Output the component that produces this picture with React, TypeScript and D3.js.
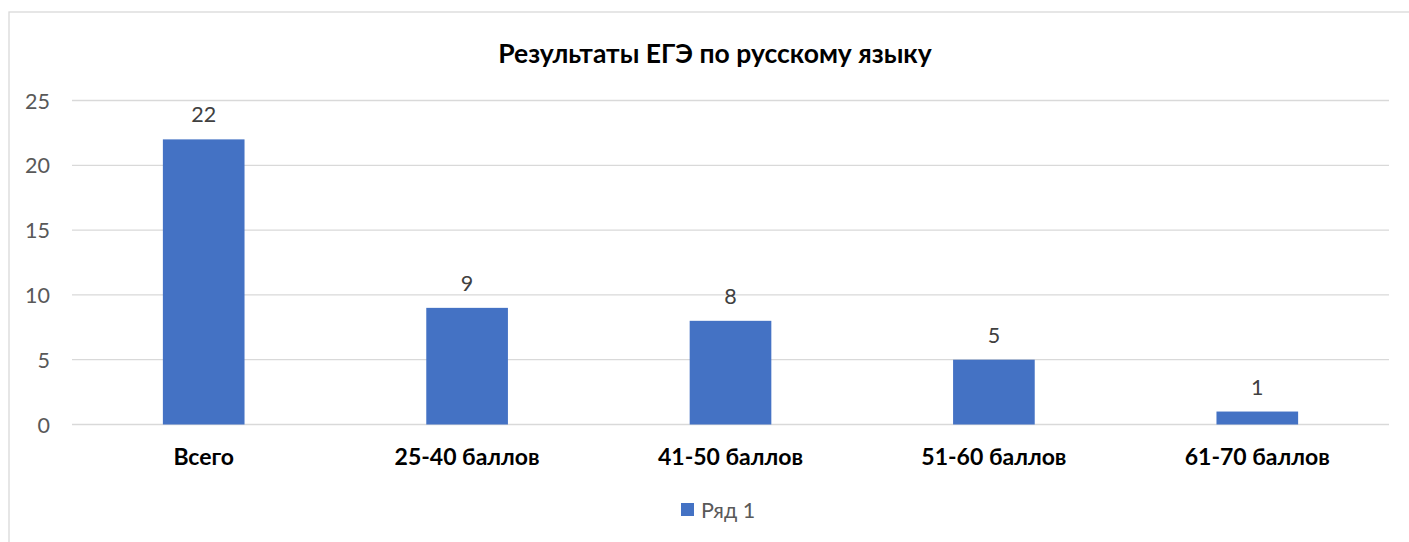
import React from "react";
import * as d3 from "d3";

const categories = ["Всего", "25-40 баллов", "41-50 баллов", "51-60 баллов", "61-70 баллов"];
const values = [22, 9, 8, 5, 1];
const yTicks = [0, 5, 10, 15, 20, 25];
const seriesName = "Ряд 1";
const title = "Результаты ЕГЭ по русскому языку";

const W = 1409;
const H = 542;
const FONT = "Lato, 'Open Sans', sans-serif";

export default function App() {
  const x = d3.scaleBand<string>().domain(categories).range([72, 1389]).paddingInner(0.69).paddingOuter(0.345);
  const y = d3.scaleLinear().domain([0, 25]).range([424.5, 100.5]);
  return (
    <svg width={W} height={H} style={{ position: "absolute", left: 0, top: 0 }}>
      <rect x={0} y={0} width={W} height={H} fill="#fff" />
      <rect x={9} y={12} width={W + 20} height={H + 20} fill="#fff" stroke="#D9D9D9" strokeWidth={1.3} />
      <text x={715} y={53} textAnchor="middle" dominantBaseline="central" fontFamily={FONT} fontWeight="bold" fontSize={26.5} fill="#000">{title}</text>
      {yTicks.map((t) => (
        <g key={t}>
          <line x1={72} x2={1389} y1={y(t)} y2={y(t)} stroke="#D9D9D9" strokeWidth={1.3} />
          <text x={50} y={y(t)} textAnchor="end" dominantBaseline="central" fontFamily={FONT} fontSize={21.5} fill="#595959">{t}</text>
        </g>
      ))}
      {categories.map((c, i) => (
        <g key={c}>
          <rect x={x(c)} y={y(values[i])} width={x.bandwidth()} height={y(0) - y(values[i])} fill="#4472C4" />
          <text x={(x(c) as number) + x.bandwidth() / 2} y={y(values[i]) - 25} textAnchor="middle" dominantBaseline="central" fontFamily={FONT} fontSize={21.5} fill="#404040">{values[i]}</text>
          <text x={(x(c) as number) + x.bandwidth() / 2} y={456} textAnchor="middle" dominantBaseline="central" fontFamily={FONT} fontWeight="bold" fontSize={23} fill="#000">{c}</text>
        </g>
      ))}
      <rect x={681} y={503} width={13} height={13} fill="#4472C4" />
      <text x={701} y={510} dominantBaseline="central" fontFamily={FONT} fontSize={21.5} fill="#595959">{seriesName}</text>
    </svg>
  );
}
